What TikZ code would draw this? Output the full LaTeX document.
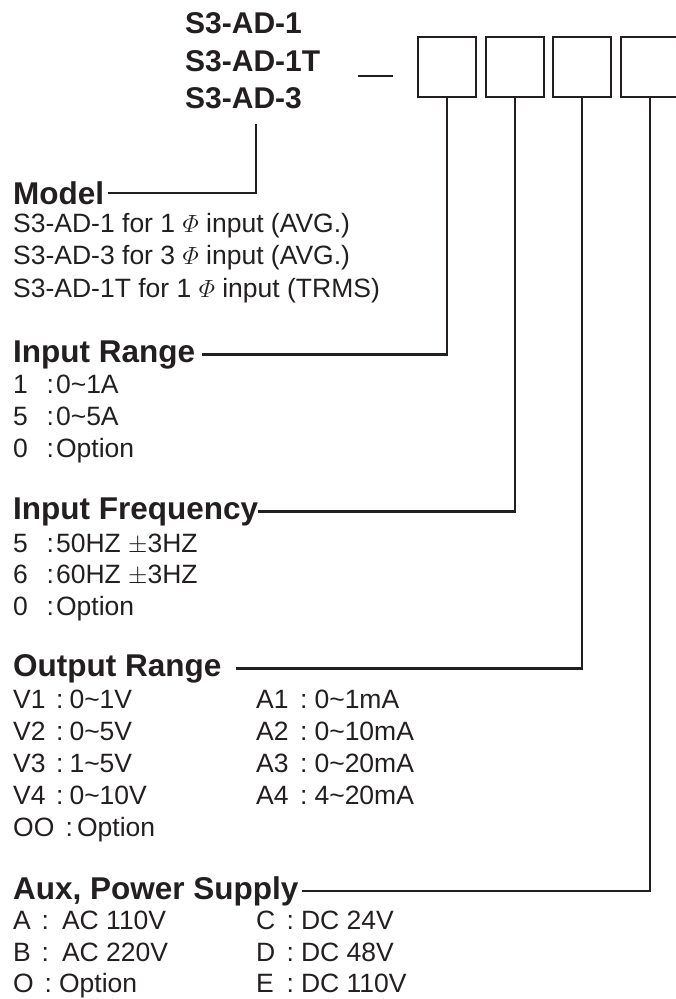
\documentclass[tikz,border=0pt]{standalone}
\usepackage{amsmath}
\usepackage{fontspec}
\setmainfont{Liberation Sans}
\definecolor{ink}{HTML}{231F20}

% key, colon and value of one option line
\newcommand{\optline}[4]{\makebox[#1][l]{#2}:\hspace{#3}#4}

\begin{document}
\begin{tikzpicture}[x=1pt,y=-1pt,text=ink,line cap=butt,line join=miter,
    partno/.style={anchor=base west,inner sep=0pt,font=\bfseries\fontsize{30}{36}\selectfont},
    head/.style={anchor=base west,inner sep=0pt,font=\bfseries\fontsize{31.5}{38}\selectfont},
    item/.style={anchor=base west,inner sep=0pt,font=\fontsize{26.5}{32}\selectfont},
    codebox/.style={draw=ink,line width=2.6pt,minimum width=58pt,minimum height=60pt,inner sep=0pt},
    wire/.style={draw=ink,line width=2.4pt}]
  \useasboundingbox (0,0) rectangle (676,999);

  % Part number and code boxes.
  \node[partno] (pn1) at (185,33) {S3-AD-1};
  \node[partno] (pn2) at (185,71) {S3-AD-1T};
  \node[partno] (pn3) at (185,108) {S3-AD-3};
  \draw[ink,line width=1.6pt] (358,76)--(393,76);
  \foreach \i/\x in {1/447,2/515,3/582,4/650}
    \node[codebox] (b\i) at (\x,67) {};

  % Model.
  \coordinate (mtop) at (256,124);
  \node[head] (model) at (13,204) {Model};
  \draw[wire] (mtop) |- ([xshift=4pt]model.east);
  \node[item] (m1) at (13,232) {S3-AD-1 for 1 $\varPhi$ input (AVG.)};
  \node[item] (m2) at (13,264) {S3-AD-3 for 3 $\varPhi$ input (AVG.)};
  \node[item] (m3) at (13,297) {S3-AD-1T for 1 $\varPhi$ input (TRMS)};

  % Input range.
  \node[head] (inrange) at (13,362) {Input Range};
  \draw[wire] (b1.south) |- ([xshift=7pt]inrange.east);
  \node[item] (r1) at (13,393) {\optline{33.5pt}{1}{2pt}{0\textasciitilde 1A}};
  \node[item] (r2) at (13,425) {\optline{33.5pt}{5}{2pt}{0\textasciitilde 5A}};
  \node[item] (r3) at (13,457) {\optline{33.5pt}{0}{2pt}{Option}};

  % Input frequency.
  \node[head] (infreq) at (13,519) {Input Frequency};
  \draw[wire] (b2.south) |- (infreq.east);
  \node[item] (f1) at (13,552) {\optline{33.5pt}{5}{2pt}{50HZ $\pm$3HZ}};
  \node[item] (f2) at (13,583) {\optline{33.5pt}{6}{2pt}{60HZ $\pm$3HZ}};
  \node[item] (f3) at (13,615) {\optline{33.5pt}{0}{2pt}{Option}};

  % Output range.
  \node[head] (outrange) at (13,676) {Output Range};
  \draw[wire] (b3.south) |- ([xshift=14pt]outrange.east);
  \node[item] (v1) at (13,708) {\optline{43pt}{V1}{6pt}{0\textasciitilde 1V}};
  \node[item] (v2) at (13,740) {\optline{43pt}{V2}{6pt}{0\textasciitilde 5V}};
  \node[item] (v3) at (13,772) {\optline{43pt}{V3}{6pt}{1\textasciitilde 5V}};
  \node[item] (v4) at (13,804) {\optline{43pt}{V4}{6pt}{0\textasciitilde 10V}};
  \node[item] (oo) at (13,836) {\optline{52.5pt}{OO}{4pt}{Option}};
  \node[item] (a1) at (256,708) {\optline{44pt}{A1}{7pt}{0\textasciitilde 1mA}};
  \node[item] (a2) at (256,740) {\optline{44pt}{A2}{7pt}{0\textasciitilde 10mA}};
  \node[item] (a3) at (256,772) {\optline{44pt}{A3}{7pt}{0\textasciitilde 20mA}};
  \node[item] (a4) at (256,804) {\optline{44pt}{A4}{7pt}{4\textasciitilde 20mA}};

  % Aux power supply.
  \node[head] (aux) at (13,899) {Aux, Power Supply};
  \draw[wire] (b4.south) |- ([xshift=3pt]aux.east);
  \node[item] (pa) at (13,929) {\optline{28.5pt}{A}{13pt}{AC 110V}};
  \node[item] (pb) at (13,961) {\optline{28.5pt}{B}{13pt}{AC 220V}};
  \node[item] (po) at (13,992) {\optline{31.5pt}{O}{7pt}{Option}};
  \node[item] (pc) at (256,929) {\optline{30.5pt}{C}{7pt}{DC 24V}};
  \node[item] (pd) at (256,961) {\optline{30.5pt}{D}{7pt}{DC 48V}};
  \node[item] (pe) at (256,992) {\optline{30.5pt}{E}{7pt}{DC 110V}};
\end{tikzpicture}
\end{document}
